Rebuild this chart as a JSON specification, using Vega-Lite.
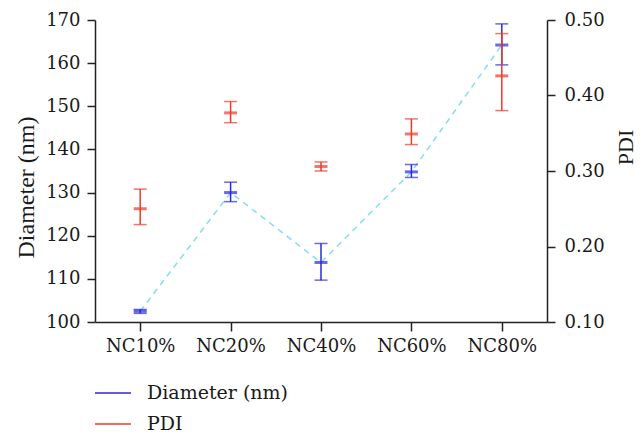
{
  "$schema": "https://vega.github.io/schema/vega-lite/v6.json",
  "autosize": {"type": "none"},
  "padding": {"left": 95, "top": 20, "right": 96, "bottom": 120},
  "width": 452,
  "height": 302,
  "background": "white",
  "config": {
    "view": {"stroke": null},
    "axis": {"labelFont": "DejaVu Serif", "titleFont": "Liberation Serif", "labelColor": "#1a1a1a", "titleColor": "#1a1a1a", "domainColor": "#222", "tickColor": "#222", "domainWidth": 1.5, "tickWidth": 1.5, "grid": false, "labelFontSize": 18, "titleFontWeight": "normal", "titleFontSize": 24},
    "legend": {"labelFont": "DejaVu Serif", "labelFontSize": 19, "labelColor": "#1a1a1a"}
  },
  "data": {"values": [
    {"group": "NC10%", "d": 102.5, "dlo": 102.0, "dhi": 102.9, "p": 0.250, "plo": 0.229, "phi": 0.276},
    {"group": "NC20%", "d": 130.0, "dlo": 127.9, "dhi": 132.4, "p": 0.377, "plo": 0.364, "phi": 0.392},
    {"group": "NC40%", "d": 113.8, "dlo": 109.7, "dhi": 118.2, "p": 0.306, "plo": 0.300, "phi": 0.312},
    {"group": "NC60%", "d": 134.8, "dlo": 133.5, "dhi": 136.5, "p": 0.349, "plo": 0.335, "phi": 0.369},
    {"group": "NC80%", "d": 164.2, "dlo": 159.6, "dhi": 169.1, "p": 0.426, "plo": 0.380, "phi": 0.482}
  ]},
  "encoding": {
    "x": {"field": "group", "type": "nominal", "sort": null, "title": null,
      "scale": {"type": "point", "padding": 0.5},
      "axis": {"labelAngle": 0, "tickSize": 9, "labelPadding": 6}}
  },
  "layer": [
    {
      "layer": [
        {"mark": {"type": "line", "color": "#86dcf2", "strokeDash": [6, 5], "strokeWidth": 1.5},
         "encoding": {"y": {"field": "d", "type": "quantitative", "title": "Diameter (nm)",
           "scale": {"domain": [100, 170], "nice": false, "zero": false},
           "axis": {"orient": "left", "values": [100, 110, 120, 130, 140, 150, 160, 170], "tickSize": 8, "labelPadding": 7, "titleAngle": 270, "titleX": -62, "titleY": 167, "titleBaseline": "alphabetic", "titleAlign": "center"}}}},
        {"mark": {"type": "rule", "strokeWidth": 1.5},
         "encoding": {"y": {"field": "dlo", "type": "quantitative", "title": "Diameter (nm)"}, "y2": {"field": "dhi"},
           "color": {"datum": "Diameter (nm)", "type": "nominal",
             "scale": {"domain": ["Diameter (nm)", "PDI"], "range": ["#2a2ad8", "#ee3a2a"]},
             "legend": {"title": null, "orient": "none", "legendX": -1, "legendY": 354, "symbolType": "stroke", "symbolSize": 1296, "symbolStrokeWidth": 1.5, "labelOffset": 15, "rowPadding": 2, "padding": 0}}}},
        {"mark": {"type": "tick", "color": "#2a2ad8", "size": 13, "thickness": 1.5},
         "encoding": {"y": {"field": "dlo", "type": "quantitative", "title": "Diameter (nm)"}}},
        {"mark": {"type": "tick", "color": "#2a2ad8", "size": 13, "thickness": 1.5},
         "encoding": {"y": {"field": "dhi", "type": "quantitative", "title": "Diameter (nm)"}}},
        {"mark": {"type": "tick", "color": "#2a2ad8", "size": 13, "thickness": 3},
         "encoding": {"y": {"field": "d", "type": "quantitative", "title": "Diameter (nm)"}}}
      ]
    },
    {
      "layer": [
        {"mark": {"type": "rule", "strokeWidth": 1.5},
         "encoding": {"y": {"field": "plo", "type": "quantitative", "title": "PDI",
           "scale": {"domain": [0.1, 0.5], "nice": false, "zero": false},
           "axis": {"orient": "right", "values": [0.1, 0.2, 0.3, 0.4, 0.5], "format": ".2f", "tickSize": 8, "labelPadding": 9, "titleAngle": 270, "titleX": 85, "titleY": 127, "titleBaseline": "alphabetic", "titleAlign": "center", "titleFontSize": 22}},
           "y2": {"field": "phi"},
           "color": {"datum": "PDI", "type": "nominal"}}},
        {"mark": {"type": "tick", "color": "#ee3a2a", "size": 13, "thickness": 1.5},
         "encoding": {"y": {"field": "plo", "type": "quantitative", "title": "PDI"}}},
        {"mark": {"type": "tick", "color": "#ee3a2a", "size": 13, "thickness": 1.5},
         "encoding": {"y": {"field": "phi", "type": "quantitative", "title": "PDI"}}},
        {"mark": {"type": "tick", "color": "#ee3a2a", "size": 13, "thickness": 3},
         "encoding": {"y": {"field": "p", "type": "quantitative", "title": "PDI"}}}
      ]
    }
  ],
  "resolve": {"scale": {"y": "independent"}, "axis": {"y": "independent"}}
}
